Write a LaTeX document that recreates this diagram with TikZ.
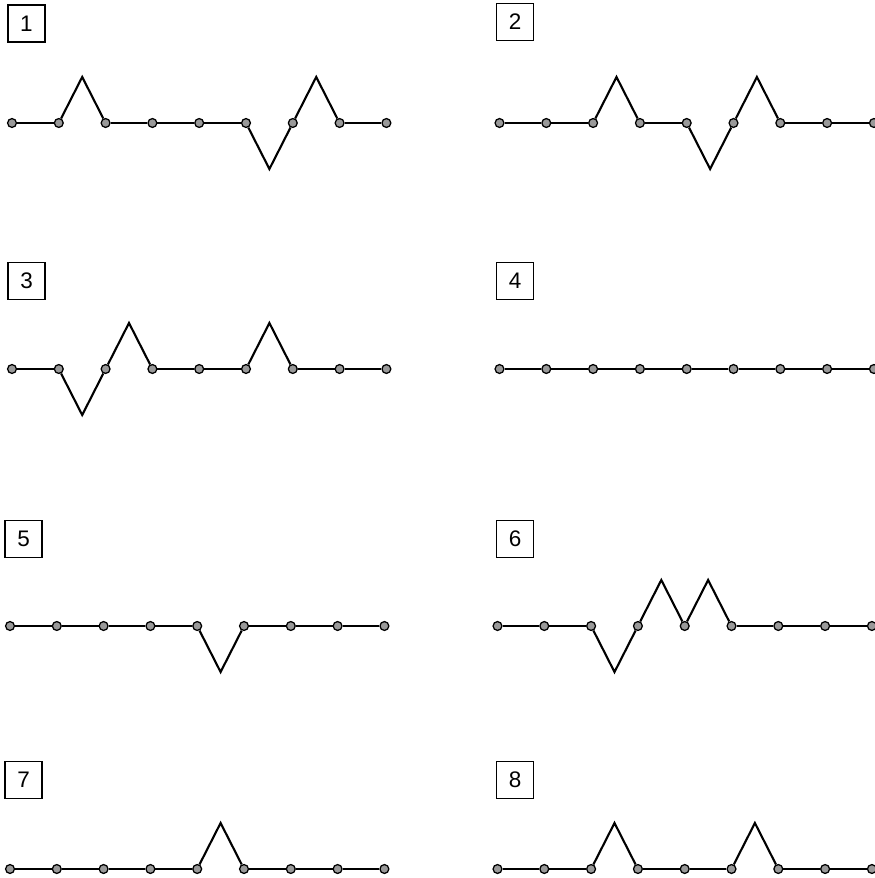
\documentclass[tikz,border=0pt]{standalone}
\usepackage{fontspec}
\setmainfont{Liberation Sans}
\tikzset{
  wire/.style={line width=1.5pt, line join=miter},
  dot/.style={circle,draw=black,line width=0.9pt,fill=black!40,inner sep=0pt,minimum size=6.3pt},
  tag/.style={draw=black,line width=1.1pt,minimum size=0.925cm,inner sep=0pt,font=\fontsize{16}{18}\selectfont},
}
\begin{document}
\begin{tikzpicture}[x=0.025cm,y=-0.025cm]
        \useasboundingbox (0,0) rectangle (874,878);
        % panels: number/first dot x/line y/tag x/tag y/steps (1 up, -1 down, 0 flat)
        \foreach \n/\px/\py/\tx/\ty/\steps in {
            1/12/123/26.5/23.7/{0,1,0,0,0,-1,1,0},
            2/499.5/123/515/22/{0,0,1,0,-1,1,0,0},
            3/12/369/26.7/281/{0,-1,1,0,0,1,0,0},
            4/499.5/369/515/281/{0,0,0,0,0,0,0,0},
            5/10/626/23.7/539/{0,0,0,0,-1,0,0,0},
            6/497.5/626/515/539/{0,0,-1,1,1,0,0,0},
            7/10/869/23.7/780/{0,0,0,0,1,0,0,0},
            8/497.5/869/515/780/{0,0,1,0,0,1,0,0}}{
          \node[tag] (tag\n) at (\tx,\ty) {\n};
          % dots on the line
          \foreach \k in {0,...,8}{
            \node[dot] (d\n-\k) at (\px+\k*46.8,\py) {};
          }
          % segments between neighbouring dots
          \foreach \s [count=\i from 0] in \steps{
            \pgfmathtruncatemacro\j{\i+1}
            \pgfmathsetmacro\h{-46*\s}
            \draw[wire] (d\n-\i) -- ++(23.4,\h) -- (d\n-\j);
          }
        }
    \end{tikzpicture}
\end{document}
